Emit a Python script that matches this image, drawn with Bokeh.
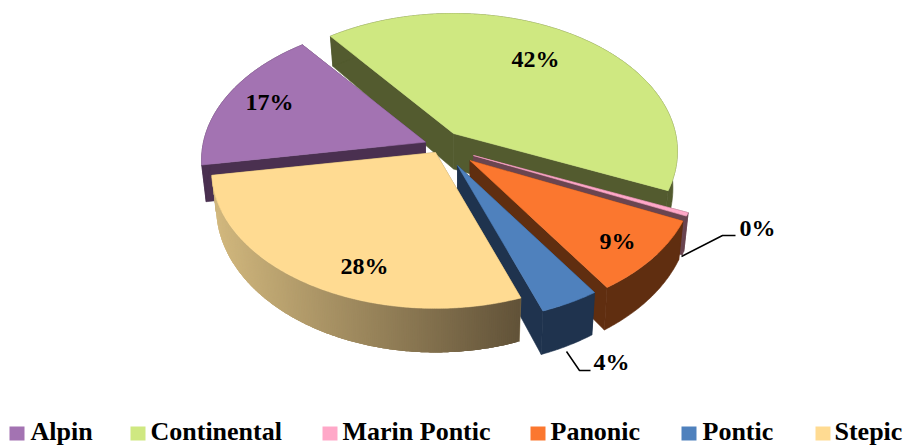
import numpy as np
from bokeh.plotting import figure
from bokeh.models import Range1d
from bokeh.core.properties import value
from bokeh.embed import file_html
from bokeh.resources import INLINE

categories = ["Alpin", "Continental", "Marin Pontic", "Panonic", "Pontic", "Stepic"]
values = [17.2, 42.1, 0.4, 8.8, 3.8, 27.9]
top_colors = ["#A373B2", "#CFE881", "#FFA8C8", "#FB772F", "#4F81BD", "#FFDB92"]
side_colors = ["#4A3050", "#535B2F", "#6A4550", "#602E10", "#1F334E", "#8A7750"]

# pie geometry (page pixels)
apex = {"Alpin": (425, 141.6), "Continental": (453, 133), "Marin Pontic": (473, 155),
        "Panonic": (469.5, 160), "Pontic": (457, 165), "Stepic": (435, 152)}
label_pos = {"Alpin": (269, 101), "Continental": (535, 58), "Marin Pontic": (757, 227),
             "Panonic": (617, 240), "Pontic": (611, 361), "Stepic": (364, 265)}
legend_swatch_x = [9, 130, 322, 530, 681, 815]
legend_text_x = [30, 150, 342, 550, 702, 834]
draw_order = ["Continental", "Marin Pontic", "Panonic", "Pontic", "Alpin", "Stepic"]
START = -99.5
R, RY, K = 222.0, 135.6, 0.13
DEPTH, DEPTH_SLOPE, BOTTOM_X = 35.5, 0.055, 0.98


def top_pt(a, th):
    t = np.radians(th)
    X, Y = np.sin(t), np.cos(t)
    w = 1 + K * Y
    return a[0] + R * X / w, a[1] - RY * Y / w


def bot_pt(a, th):
    x, y = top_pt(a, th)
    dx, dy = x - a[0], y - a[1]
    return a[0] + dx * BOTTOM_X, a[1] + dy * (1 + DEPTH_SLOPE) + DEPTH


total = sum(values)
spans = {}
th = START
for c, v in zip(categories, values):
    d = v / total * 360
    spans[c] = (th, th + d)
    th += d

p = figure(width=904, height=445, x_range=Range1d(0, 904), y_range=Range1d(445, 0),
           output_backend="svg", toolbar_location=None, min_border=0,
           x_axis_location=None, y_axis_location=None, outline_line_color=None,
           background_fill_color="white", border_fill_color="white")
p.grid.visible = False

STEP_L = (0xD3, 0xB9, 0x7F)
STEP_R = (0x62, 0x53, 0x39)


def poly(xs, ys, color):
    p.patch(xs, ys, fill_color=color, line_color=color, line_width=0.6)


for c in draw_order:
    i = categories.index(c)
    a = apex[c]
    t0, t1 = spans[c]
    side = side_colors[i]
    ths = np.linspace(t0, t1, max(3, int((t1 - t0) / 0.5) + 2))
    tops = [top_pt(a, t) for t in ths]
    bots = [bot_pt(a, t) for t in ths]
    ab = (a[0], a[1] + DEPTH)
    # cut faces
    for k in (0, -1):
        poly([a[0], tops[k][0], bots[k][0], ab[0]], [a[1], tops[k][1], bots[k][1], ab[1]], side)
    # outer wall
    if c == "Stepic":
        # the wall of this slice runs right to left as the angle grows, so paint right to left
        lo, hi = min(q[0] for q in tops), max(q[0] for q in tops)
        n = len(ths) - 1
        for j in range(n):
            e = min(j + 3, n)
            f = (tops[j][0] - lo) / (hi - lo)
            col = "#%02X%02X%02X" % tuple(int(STEP_L[m] + (STEP_R[m] - STEP_L[m]) * f) for m in range(3))
            xs = [q[0] for q in tops[j:e + 1]] + [q[0] for q in bots[j:e + 1][::-1]]
            ys = [q[1] for q in tops[j:e + 1]] + [q[1] for q in bots[j:e + 1][::-1]]
            p.patch(xs, ys, fill_color=col, line_color=None)
    else:
        poly([q[0] for q in tops] + [q[0] for q in bots[::-1]],
             [q[1] for q in tops] + [q[1] for q in bots[::-1]], side)
    # top face
    poly([a[0]] + [q[0] for q in tops], [a[1]] + [q[1] for q in tops], top_colors[i])

# leader lines
p.line([681, 722, 735], [256, 235, 235], line_color="black", line_width=1.5)
p.line([566, 579, 590], [351, 370, 370], line_color="black", line_width=1.5)

# data labels
for c, v in zip(categories, values):
    x, y = label_pos[c]
    p.text([x], [y], text=[f"{round(v)}%"], text_font=value("Liberation Serif"), text_font_style="bold",
           text_font_size="24px", text_align="center", text_baseline="middle", text_color="black")

# legend
for c, col, sx, tx in zip(categories, top_colors, legend_swatch_x, legend_text_x):
    p.patch([sx, sx + 15, sx + 15, sx], [426, 426, 440, 440], fill_color=col, line_color=None)
    p.text([tx], [430.5], text=[c], text_font=value("Liberation Serif"), text_font_style="bold",
           text_font_size="26px", text_align="left", text_baseline="middle", text_color="black")

open("out.html", "w").write(file_html(p, INLINE))
